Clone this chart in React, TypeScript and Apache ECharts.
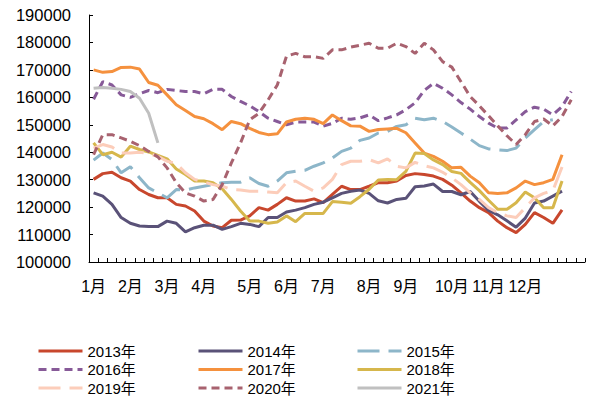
import React, { useEffect, useRef } from 'react';
import * as echarts from 'echarts';

// 54 weekly categories; month labels sit at the first week of each month
const weeks = Array.from({ length: 54 }, (_, i) => `第${i + 1}周`);
const monthLabels = ['1月', '2月', '3月', '4月', '5月', '6月', '7月', '8月', '9月', '10月', '11月', '12月'];
const monthStartWeeks = [0, 4, 8, 12, 17, 21, 25, 30, 34, 39, 43, 47];

const yMin = 100000;
const yMax = 190000;
const yStep = 10000;

const s2013 = [130100, 132200, 132700, 130700, 129500, 126400, 124600, 123400, 123400, 121000, 120400, 118600, 114900, 113100, 112500, 115200, 115300, 116800, 119800, 118900, 121000, 123400, 122200, 122200, 123000, 121600, 124600, 127600, 126400, 126400, 127600, 128900, 128900, 129500, 131500, 132200, 131900, 131300, 130100, 128000, 125200, 122200, 119800, 118000, 114900, 112500, 110700, 113700, 118000, 116200, 114100, 119000];
const s2014 = [125200, 124000, 121000, 116200, 114100, 113100, 112900, 112900, 114900, 114100, 111000, 112500, 113400, 113400, 111900, 112900, 114100, 113700, 112900, 116200, 116200, 118200, 118900, 119800, 121000, 121800, 123400, 125000, 125800, 126200, 125000, 122300, 121500, 122800, 123200, 127400, 127700, 128400, 125700, 125700, 124500, 125700, 122100, 118800, 117200, 115000, 112700, 116000, 121500, 122200, 124000, 125800];
const s2015 = [137100, 139700, 137300, 132500, 134700, 130700, 127000, 125200, 123400, 126400, 126200, 127000, 127600, 128200, 128900, 129100, 129100, 130700, 128600, 127600, 129500, 132500, 133100, 133400, 134900, 136100, 137900, 140300, 141500, 144300, 145200, 147000, 147600, 149400, 150000, 152400, 151800, 152400, 151200, 149200, 147000, 144800, 142400, 141200, 140900, 140600, 141500, 145200, 148200, 151200, 151800];
const s2016 = [159300, 165700, 164500, 160900, 160000, 161300, 162500, 161700, 162900, 162500, 162100, 162100, 161300, 162900, 162900, 160300, 158500, 156900, 154800, 152400, 151200, 150000, 151000, 151000, 151000, 149500, 150500, 152400, 152000, 152500, 153600, 151500, 152500, 153600, 155500, 158000, 162500, 165100, 163300, 160900, 158100, 155700, 153000, 150600, 148800, 148800, 151800, 154800, 156400, 155700, 153600, 156600, 162100];
const s2017 = [170000, 169100, 169400, 170900, 171000, 170300, 165400, 164400, 160900, 157300, 155200, 153000, 152200, 150400, 148200, 151200, 150400, 148700, 147200, 146400, 146700, 151000, 152000, 152400, 152000, 150400, 153600, 151500, 149600, 149500, 147600, 148300, 148500, 148700, 147100, 143400, 139700, 138500, 136700, 134300, 134500, 131300, 128900, 125200, 125000, 125200, 127000, 129500, 128200, 128900, 130100, 139100];
const s2018 = [143400, 139100, 140000, 138200, 142200, 141000, 140100, 138800, 137600, 133900, 131900, 129500, 129500, 128900, 126700, 122800, 118600, 114900, 114900, 114100, 114600, 116800, 114700, 117700, 117700, 117700, 122000, 121800, 121400, 123800, 126500, 129900, 130100, 130000, 133000, 139700, 139500, 137200, 135500, 133000, 132300, 129000, 126000, 122500, 119200, 119200, 121600, 125500, 123400, 119800, 119800, 129500];
const s2019 = [141500, 142800, 141900, 139700, 139700, 140000, 139500, 138500, 136700, 135900, 132500, 130100, 129100, 128200, 127600, 126400, 126200, 125800, 125800, 125500, 125200, 128900, 129500, 127600, 125800, 127000, 130100, 135500, 136700, 136700, 137300, 136100, 137600, 134900, 134300, 136300, 135100, 134300, 132700, 130700, 128200, 125200, 122800, 119800, 118000, 116800, 116200, 119800, 123400, 125000, 126000, 134600];
const s2020 = [139100, 146400, 146400, 145200, 144000, 142400, 140300, 138300, 134300, 128900, 125200, 124000, 122200, 122800, 128200, 136100, 143400, 151800, 154200, 159100, 164500, 175000, 176000, 174800, 174800, 174200, 177300, 177300, 178300, 179000, 179700, 177900, 177900, 179700, 178500, 176000, 179700, 177300, 173000, 171000, 165700, 160300, 156900, 153300, 149600, 146000, 142800, 146400, 151200, 152100, 149600, 153000, 159100];
const s2021 = [163300, 163600, 163300, 162900, 162100, 159700, 154200, 143400];

const FONT = '"Liberation Sans", Arial, "Noto Sans CJK SC", sans-serif';
const LONG_DASH = [22, 9];
const SHORT_DASH = [8, 5];

const seriesDefs = [
  { name: '2013年', data: s2013, color: '#C8472D', dash: 'solid' as any },
  { name: '2014年', data: s2014, color: '#5A5278', dash: 'solid' as any },
  { name: '2015年', data: s2015, color: '#8DB6C9', dash: LONG_DASH as any },
  { name: '2016年', data: s2016, color: '#875A98', dash: SHORT_DASH as any },
  { name: '2017年', data: s2017, color: '#F5913E', dash: 'solid' as any },
  { name: '2018年', data: s2018, color: '#D6B74C', dash: 'solid' as any },
  { name: '2019年', data: s2019, color: '#FCCDBA', dash: LONG_DASH as any },
  { name: '2020年', data: s2020, color: '#A8626F', dash: SHORT_DASH as any },
  { name: '2021年', data: s2021, color: '#C0C0C0', dash: 'solid' as any },
];

const legendCols = [37, 197, 356];
const legendRows = [343, 361.5, 380];

export default function App() {
  const ref = useRef<HTMLDivElement>(null);
  useEffect(() => {
    if (!ref.current) return;
    const chart = echarts.init(ref.current, undefined, { renderer: 'svg' });
    const option: any = {
      animation: false,
      grid: { left: 89, right: 7, top: 15, bottom: 138, containLabel: false, outerBoundsMode: 'none' },
      xAxis: {
        type: 'category',
        data: weeks,
        boundaryGap: true,
        axisLine: { show: true, lineStyle: { color: '#000', width: 1 } },
        axisTick: { show: true, inside: true, length: 4, interval: 0, lineStyle: { color: '#000' } },
        axisLabel: {
          interval: 0,
          fontSize: 16,
          color: '#000',
          margin: 16,
          fontFamily: FONT,
          formatter: (_v: string, idx: number) => {
            const k = monthStartWeeks.indexOf(idx);
            return k >= 0 ? monthLabels[k] : '';
          },
        },
        splitLine: { show: false },
      },
      yAxis: {
        type: 'value',
        min: yMin,
        max: yMax,
        interval: yStep,
        axisLine: { show: true, lineStyle: { color: '#000', width: 1 } },
        axisTick: { show: true, inside: true, length: 4, lineStyle: { color: '#000' } },
        axisLabel: {
          fontSize: 16.5,
          color: '#000',
          margin: 18,
          fontFamily: FONT,
          formatter: (v: number) => String(v),
        },
        splitLine: { show: false },
      },
      legend: seriesDefs.map((d, k) => ({
        data: [d.name],
        left: legendCols[k % 3],
        top: legendRows[Math.floor(k / 3)],
        padding: 0,
        itemWidth: 44,
        itemHeight: 14,
        selectedMode: false,
        itemStyle: { opacity: 0 },
        lineStyle: { width: 3 },
        textStyle: { fontSize: 15, color: '#000', fontFamily: FONT, lineHeight: 16 },
      })),
      series: seriesDefs.map((d) => ({
        type: 'line',
        name: d.name,
        data: d.data,
        symbol: 'none',
        lineStyle: { color: d.color, width: 3, type: d.dash },
        itemStyle: { color: d.color },
      })),
    };
    chart.setOption(option);
    return () => chart.dispose();
  }, []);
  return <div ref={ref} style={{ width: 592, height: 400, position: 'absolute', left: 0, top: 0 }} />;
}
